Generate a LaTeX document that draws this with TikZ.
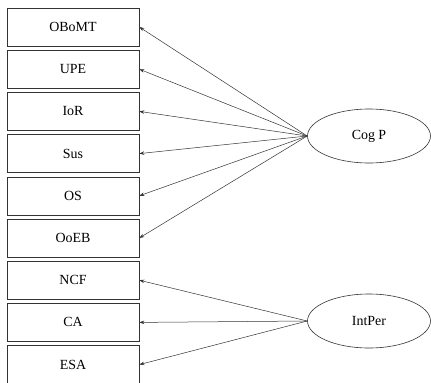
\documentclass[tikz,border=0pt]{standalone}
\usepackage{fontspec}
\setmainfont{Liberation Serif}
\usetikzlibrary{shapes.geometric,arrows.meta}
\begin{document}
\begin{tikzpicture}[x=1bp,y=-1bp,
    indbox/.style={draw=black!80,line width=0.6bp,minimum width=132bp,minimum height=38bp,inner sep=0pt,font=\fontsize{14}{16}\selectfont},
    latent/.style={ellipse,draw=black!80,line width=0.6bp,minimum width=123bp,minimum height=54bp,inner sep=0pt,font=\fontsize{14}{16}\selectfont},
    load/.style={-{Stealth[length=5bp,width=3.5bp]},draw=black!80,line width=0.5bp}]
    \useasboundingbox (0,0) rectangle (431,383);
    \def\boxPitch{42.2}
    \foreach \name/\lbl [count=\i] in {obomt/OBoMT,upe/UPE,ior/IoR,sus/Sus,os/OS,ooeb/OoEB,ncf/NCF,ca/CA,esa/ESA}
        \node[indbox] (\name) at (73,{27+\boxPitch*(\i-1)}) {\lbl};

    \node[latent] (cogp) at (369,136) {Cog P};
    \node[latent] (intper) at (369,321) {IntPer};

    \foreach \name in {obomt,upe,ior,sus,os,ooeb}
        \draw[load] (cogp.west) -- (\name.east);
    \foreach \name in {ncf,ca,esa}
        \draw[load] (intper.west) -- (\name.east);
\end{tikzpicture}
\end{document}
